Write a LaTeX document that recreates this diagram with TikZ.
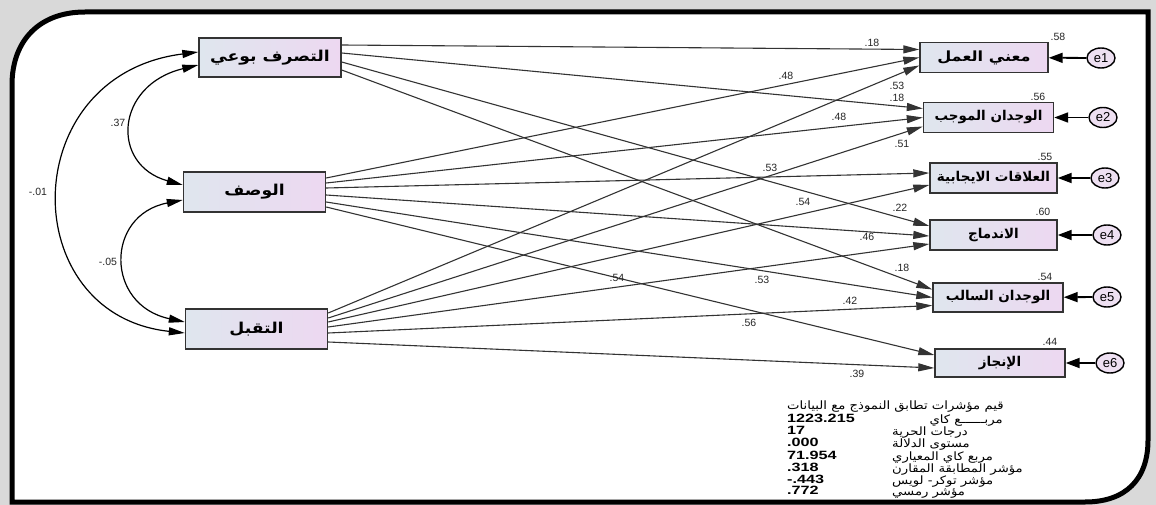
\documentclass[tikz,border=0pt]{standalone}
\usepackage{fontspec}
\setmainfont{Liberation Sans}
\newfontfamily\arb[Script=Arabic]{DejaVu Sans}
\newfontfamily\arbwide[Script=Arabic,FakeStretch=1.15]{DejaVu Sans}
\newfontfamily\arbtab[Script=Arabic,FakeStretch=1.15]{DejaVu Sans}
\newfontfamily\numwide[FakeStretch=1.35]{Liberation Sans}
\TeXXeTstate=1
\usetikzlibrary{arrows.meta,shapes.geometric}
\definecolor{boxL}{HTML}{DFE6EE}
\definecolor{boxR}{HTML}{EDD8F1}
\definecolor{errC}{HTML}{EEE0F2}
\definecolor{lineC}{HTML}{333333}
\definecolor{frameC}{HTML}{D9D9D9}
\tikzset{
  latbox/.style={draw=lineC, line width=1.4pt, left color=boxL, right color=boxR, minimum width=142pt, minimum height=39pt, inner sep=0pt, font=\arbwide\bfseries\fontsize{15}{15}\selectfont},
  obsbox/.style={draw=lineC, line width=1.4pt, left color=boxL, right color=boxR, minimum width=130pt, minimum height=30pt, inner sep=0pt, font=\arb\bfseries\fontsize{13.5}{13.5}\selectfont},
  errnode/.style={ellipse, draw=black, line width=1.4pt, fill=errC, minimum width=28pt, minimum height=20pt, inner sep=0pt, font=\fontsize{13}{13}\selectfont},
  pathline/.style={draw=lineC, line width=1.1pt, -{Triangle[length=16pt,width=8pt]}},
  errline/.style={draw=black, line width=1.8pt, -{Triangle[length=14pt,width=10pt]}},
  covline/.style={draw=black, line width=1.2pt, {Triangle[length=16pt,width=8pt]}-{Triangle[length=16pt,width=8pt]}},
  coef/.style={font=\fontsize{10.5}{10.5}\selectfont, text=black!85, inner sep=0pt},
  tabnum/.style={font=\numwide\bfseries\fontsize{12}{12}\selectfont, anchor=base west, inner sep=0pt},
  tablab/.style={font=\arbtab\fontsize{11.5}{11.5}\selectfont, anchor=base west, inner sep=0pt}
}
\begin{document}
\begin{tikzpicture}[x=1pt,y=-1pt]
\useasboundingbox (0,0) rectangle (1156,505);
\fill[frameC] (0,0) rectangle (1156,505);
\draw[line width=5pt, fill=white] (12,502) -- (12,85) .. controls (12,40) and (40,12) .. (85,12) -- (1148,12) -- (1148,440) .. controls (1148,480) and (1125,502) .. (1085,502) -- cycle;

% exogenous
\node[latbox] (A) at (270,57.5) {\beginR التصرف بوعي\endR};
\node[latbox, minimum height=40pt] (B) at (254.5,192) {\beginR الوصف\endR};
\node[latbox, minimum height=40pt] (C) at (256.5,329) {\beginR التقبل\endR};

% endogenous
\node[obsbox, minimum width=128pt, font=\arbwide\bfseries\fontsize{14}{14}\selectfont] (Y1) at (984,57.5) {\beginR معني العمل\endR};
\node[obsbox] (Y2) at (988.5,117.5) {\beginR الوجدان الموجب\endR};
\node[obsbox, minimum width=127pt] (Y3) at (993.5,178) {\beginR العلاقات الايجابية\endR};
\node[obsbox, minimum width=127pt] (Y4) at (993.5,235) {\beginR الاندماج\endR};
\node[obsbox, minimum height=29pt] (Y5) at (998,297.5) {\beginR الوجدان السالب\endR};
\node[obsbox, minimum height=28pt] (Y6) at (1000,363) {\beginR الإنجاز\endR};

% errors
\node[errnode] (e1) at (1101,58) {e1};
\node[errnode] (e2) at (1103,117.5) {e2};
\node[errnode] (e3) at (1105,178) {e3};
\node[errnode] (e4) at (1107,235) {e4};
\node[errnode] (e5) at (1107,297) {e5};
\node[errnode] (e6) at (1110,363) {e6};
\foreach \i in {1,...,6} { \draw[errline] (e\i) -- (Y\i); }

% paths from A
\draw[pathline] ([yshift=12.5pt]A.east) -- ([yshift=8pt]Y1.west);
\draw[pathline] ([yshift=4.5pt]A.east) -- ([yshift=9pt]Y2.west);
\draw[pathline] ([yshift=-4.5pt]A.east) -- ([yshift=9pt]Y4.west);
\draw[pathline] ([yshift=-12.5pt]A.east) -- ([yshift=8pt]Y5.west);
% paths from B
\draw[pathline] ([yshift=14pt]B.east) -- ([yshift=0pt]Y1.west);
\draw[pathline] ([yshift=9pt]B.east) -- ([yshift=0pt]Y2.west);
\draw[pathline] ([yshift=4pt]B.east) -- ([yshift=5pt]Y3.west);
\draw[pathline] ([yshift=-3pt]B.east) -- ([yshift=-1pt]Y4.west);
\draw[pathline] ([yshift=-10pt]B.east) -- ([yshift=0pt]Y5.west);
\draw[pathline] ([yshift=-15pt]B.east) -- ([yshift=8pt]Y6.west);
% paths from C
\draw[pathline] ([yshift=16pt]C.east) -- ([yshift=-8pt]Y1.west);
\draw[pathline] ([yshift=11pt]C.east) -- ([yshift=-9pt]Y2.west);
\draw[pathline] ([yshift=7pt]C.east) -- ([yshift=-7pt]Y3.west);
\draw[pathline] ([yshift=2pt]C.east) -- ([yshift=-9pt]Y4.west);
\draw[pathline] ([yshift=-4pt]C.east) -- ([yshift=-8pt]Y5.west);
\draw[pathline] ([yshift=-13pt]C.east) -- ([yshift=-5pt]Y6.west);

% covariances
\draw[covline] ([yshift=-7.5pt]A.west) .. controls (115,85) and (110,165) .. ([yshift=7pt]B.west);
\draw[covline] ([yshift=-8pt]B.west) .. controls (105,215) and (105,305) .. ([yshift=7pt]C.west);
\draw[covline] ([yshift=5.5pt]A.west) .. controls (15,75) and (15,315) .. ([yshift=-4pt]C.west);
\node[coef] (c1) at (118,123) {.37};
\node[coef] (c2) at (38,192) {-.01};
\node[coef] (c3) at (108,262) {-.05};

% coefficients
\node[coef] (k1) at (872,43) {.18};
\node[coef] (k2) at (786,76) {.48};
\node[coef] (k3) at (897,86) {.53};
\node[coef] (k4) at (897,98) {.18};
\node[coef] (k5) at (839,117) {.48};
\node[coef] (k6) at (902,144) {.51};
\node[coef] (k7) at (770,168) {.53};
\node[coef] (k8) at (803,202) {.54};
\node[coef] (k9) at (900,208) {.22};
\node[coef] (k10) at (867,237) {.46};
\node[coef] (k11) at (902,268) {.18};
\node[coef] (k12) at (850,301) {.42};
\node[coef] (k13) at (617,278) {.54};
\node[coef] (k14) at (762,280) {.53};
\node[coef] (k15) at (749,323) {.56};
\node[coef] (k16) at (857,374) {.39};
% R2
\node[coef] (r1) at (1058,37) {.58};
\node[coef] (r2) at (1038,97) {.56};
\node[coef] (r3) at (1045,157) {.55};
\node[coef] (r4) at (1043,212) {.60};
\node[coef] (r5) at (1045,277) {.54};
\node[coef] (r6) at (1050,342) {.44};

% fit table
\node[tablab] (t0) at (787,409) {\beginR قيم مؤشرات تطابق النموذج مع البيانات\endR};
\node[tabnum] (n1) at (787,422) {1223.215};
\node[tablab, anchor=base east] (t1) at (1003,423) {\beginR مربــــــع كاي\endR};
\node[tabnum] (n2) at (787,434) {17};
\node[tablab] (t2) at (892,435) {\beginR درجات الحرية\endR};
\node[tabnum] (n3) at (787,446) {.000};
\node[tablab] (t3) at (892,447) {\beginR مستوى الدلالة\endR};
\node[tabnum] (n4) at (787,459) {71.954};
\node[tablab] (t4) at (892,460) {\beginR مربع كاي المعياري\endR};
\node[tabnum] (n5) at (787,471) {.318};
\node[tablab] (t5) at (892,472) {\beginR مؤشر المطابقة المقارن\endR};
\node[tabnum] (n6) at (787,483) {-.443};
\node[tablab] (t6) at (892,484) {\beginR مؤشر توكر- لويس\endR};
\node[tabnum] (n7) at (787,494) {.772};
\node[tablab] (t7) at (892,495) {\beginR مؤشر رمسي\endR};
\end{tikzpicture}
\end{document}
